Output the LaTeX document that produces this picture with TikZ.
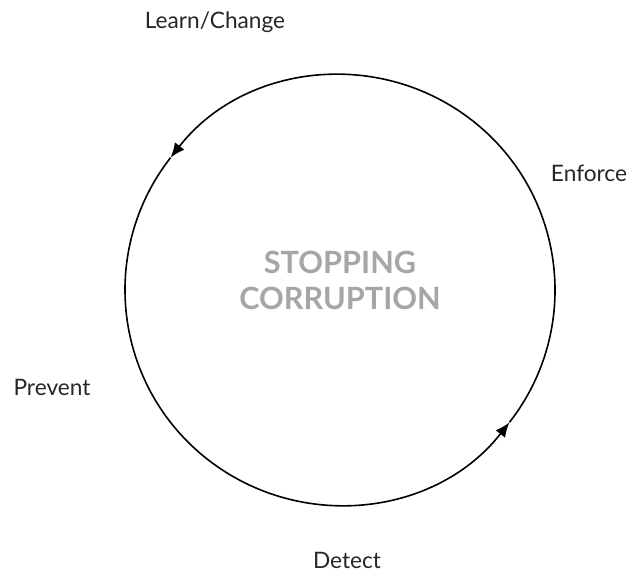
\documentclass[tikz,border=0pt]{standalone}
\usepackage{fontspec}
\setmainfont{Lato}
\usetikzlibrary{arrows.meta, positioning}

\begin{document}
\begin{tikzpicture}[
    x=0.75pt, y=0.75pt,
    every node/.style={inner sep=0pt, font=\fontsize{17}{20}\selectfont, text=black!85},
    cycle arrow/.style={-{Latex[length=11pt, width=9pt]}, line width=1.2pt}
]
\useasboundingbox (0,0) rectangle (627,573);

\node (ring) [circle, outer sep=0pt, minimum size=322.5pt] at (340,283) {};
\node (title) [align=center, font=\bfseries\fontsize{23}{27}\selectfont, text=black!35]
    at (340,293) {STOPPING\\CORRUPTION};

\node (learn) at (215,551) {Learn/Change};
\node (enforce) at (589,400) {Enforce};
\node (prevent) at (52,186) {Prevent};
\node (detect) at (347,13) {Detect};

\draw[cycle arrow] (ring.-38) arc[start angle=-38, end angle=142, radius=161.25pt];
\draw[cycle arrow] (ring.142) arc[start angle=142, end angle=322, radius=161.25pt];

\end{tikzpicture}
\end{document}
